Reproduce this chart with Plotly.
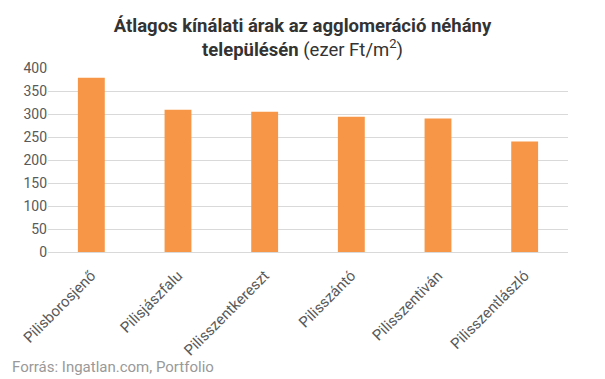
import plotly.graph_objects as go

categories = ["Pilisborosjenő", "Pilisjászfalu", "Pilisszentkereszt",
              "Pilisszántó", "Pilisszentiván", "Pilisszentlászló"]
values = [379, 309, 305, 294, 290, 240]
y_ticks = [0, 50, 100, 150, 200, 250, 300, 350, 400]

FONT = "Roboto"

fig = go.Figure(go.Bar(
    x=categories, y=values,
    marker=dict(color="#F79646", line=dict(width=0)),
    width=0.31,
))

L, R, T, B = 48, 37, 68, 127
W, H = 605, 379
ph = H - T - B
pw = W - L - R

fig.update_layout(
    width=W, height=H,
    margin=dict(l=L, r=R, t=T, b=B, autoexpand=False),
    paper_bgcolor="white", plot_bgcolor="white",
    font=dict(family=FONT, color="#595959"),
    showlegend=False,
    title=dict(
        text="<b>Átlagos kínálati árak az agglomeráció néhány<br>településén</b> (ezer Ft/m<sup>2</sup>)",
        x=0.5, xref="container", xanchor="center",
        y=1 - 32 / H, yref="container", yanchor="middle",
        font=dict(family=FONT, size=18.5, color="#333333"),
    ),
    xaxis=dict(
        tickangle=-45, tickfont=dict(family=FONT, size=15, color="#595959"),
        showgrid=False, showline=False, ticks="", automargin=False,
        ticklabelstandoff=11,
    ),
    yaxis=dict(
        range=[0, 400], tickvals=y_ticks, showgrid=True, gridcolor="#D9D9D9",
        gridwidth=1, zeroline=True, zerolinecolor="#D9D9D9", zerolinewidth=1,
        tickfont=dict(family=FONT, size=14, color="#595959"), ticks="",
        showline=False, automargin=False,
    ),
    annotations=[dict(
        text="Forrás: Ingatlan.com, Portfolio", showarrow=False,
        xref="paper", yref="paper",
        x=(10 - L) / pw, y=(H - B - 367) / ph,
        xanchor="left", yanchor="middle",
        font=dict(family=FONT, size=15, color="#999999"),
    )],
)

fig.write_html(
    "out.html",
    config={"displayModeBar": False},
    post_script="document.body.style.margin='0';document.body.style.padding='0';document.body.style.overflow='hidden';",
)
